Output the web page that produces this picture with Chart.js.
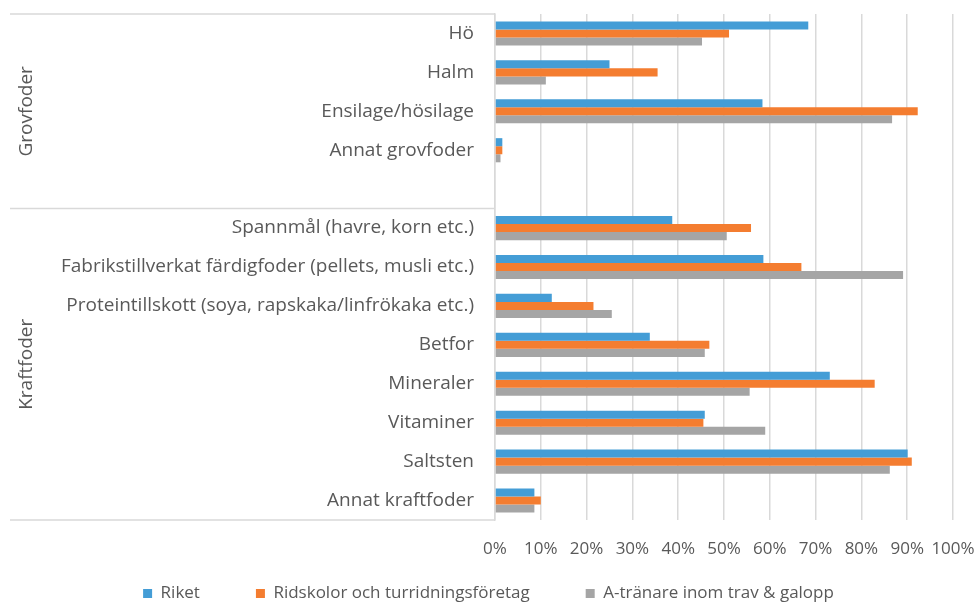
<!DOCTYPE html>
<html>
<head>
<meta charset="utf-8">
<script src="https://cdn.jsdelivr.net/npm/chart.js@4"></script>
<style>
  html, body { margin: 0; padding: 0; background: #fff; overflow: hidden; }
  #wrap { width: 977px; height: 649px; position: relative; }
</style>
</head>
<body>
<div id="wrap"><canvas id="fChart"></canvas></div>
<script>
// categories, top to bottom (empty slot separates the two groups)
const categories = [
  'Hö', 'Halm', 'Ensilage/hösilage', 'Annat grovfoder', '',
  'Spannmål (havre, korn etc.)',
  'Fabrikstillverkat färdigfoder (pellets, musli etc.)',
  'Proteintillskott (soya, rapskaka/linfrökaka etc.)',
  'Betfor', 'Mineraler', 'Vitaminer', 'Saltsten', 'Annat kraftfoder'
];
// group name, first slot, last slot
const groups = [
  ['Grovfoder', 0, 4],
  ['Kraftfoder', 5, 12]
];
const seriesNames = ['Riket', 'Ridskolor och turridningsföretag', 'A-tränare inom trav & galopp'];
const riket     = [68.4, 25.0, 58.4, 1.6, null, 38.7, 58.6, 12.4, 33.8, 73.1, 45.8, 90.1, 8.6];
const ridskolor = [51.1, 35.5, 92.3, 1.6, null, 55.9, 66.9, 21.5, 46.8, 82.9, 45.5, 91.0, 10.0];
const atranare  = [45.2, 11.1, 86.7, 1.2, null, 50.6, 89.1, 25.5, 45.8, 55.6, 59.0, 86.2, 8.6];
const xTicks = [0, 10, 20, 30, 40, 50, 60, 70, 80, 90, 100];

const textColor = '#595959';
const lineColor = '#d9d9d9';

// group labels and the bracket lines left of the category axis
const groupPlugin = {
  id: 'groups',
  afterDraw(chart) {
    const ctx = chart.ctx;
    const y = chart.scales.y;
    const left = chart.chartArea.left;
    const half = (y.getPixelForValue(1) - y.getPixelForValue(0)) / 2;
    ctx.save();
    ctx.strokeStyle = lineColor;
    ctx.lineWidth = 1.5;
    const edges = [y.getPixelForValue(0) - half];
    groups.forEach(g => edges.push(y.getPixelForValue(g[2]) + half));
    edges.forEach(py => {
      ctx.beginPath();
      ctx.moveTo(10, py);
      ctx.lineTo(left, py);
      ctx.stroke();
    });
    ctx.fillStyle = textColor;
    ctx.font = '19px "Open Sans"';
    ctx.textAlign = 'center';
    ctx.textBaseline = 'middle';
    groups.forEach(g => {
      const top = y.getPixelForValue(g[1]) - half;
      const bot = y.getPixelForValue(g[2]) + half;
      ctx.save();
      ctx.translate(27, (top + bot) / 2);
      ctx.rotate(-Math.PI / 2);
      ctx.fillText(g[0], 0, 0);
      ctx.restore();
    });
    ctx.restore();
  }
};

// legend sits closer under the axis labels than its padding would allow
const legendLift = {
  id: 'legendLift',
  afterLayout(chart) {
    const lg = chart.legend;
    if (lg) {
      lg.top -= 37; lg.bottom -= 37;
      lg.left += 12; lg.right += 12;
    }
  }
};

const data = {
  labels: categories,
  datasets: [
    { label: seriesNames[0], data: riket, backgroundColor: '#449dd6' },
    { label: seriesNames[1], data: ridskolor, backgroundColor: '#f47d30' },
    { label: seriesNames[2], data: atranare, backgroundColor: '#a5a5a5' }
  ]
};

const config = {
  type: 'bar',
  data: data,
  plugins: [groupPlugin, legendLift],
  options: {
    indexAxis: 'y',
    maintainAspectRatio: false,
    animation: false,
    categoryPercentage: 0.62,
    barPercentage: 1.0,
    layout: { padding: { top: 14, right: 24, left: 0, bottom: 0 } },
    scales: {
      x: {
        min: 0, max: 100,
        afterBuildTicks: s => { s.ticks = xTicks.map(v => ({ value: v })); },
        afterFit: s => { s.height = 46; s.paddingLeft = 0; s.paddingRight = 0; },
        grid: { color: lineColor, lineWidth: 1.5, drawTicks: false },
        border: { display: false },
        ticks: {
          callback: v => v + '%',
          color: textColor,
          font: { family: 'Open Sans', size: 17 },
          padding: 19,
          autoSkip: false,
          maxRotation: 0
        }
      },
      y: {
        afterFit: s => { s.width = 495; s.paddingTop = 0; s.paddingBottom = 0; },
        grid: { display: false },
        border: { color: lineColor, width: 1.5 },
        ticks: {
          color: textColor,
          font: { family: 'Open Sans', size: 19 },
          padding: 13,
          autoSkip: false
        }
      }
    },
    plugins: {
      legend: {
        position: 'bottom',
        labels: {
          color: textColor,
          font: { family: 'Open Sans', size: 17 },
          boxWidth: 9,
          boxHeight: 9,
          padding: 56
        }
      },
      tooltip: { enabled: false }
    }
  }
};

new Chart(document.getElementById('fChart'), config);
</script>
</body>
</html>
